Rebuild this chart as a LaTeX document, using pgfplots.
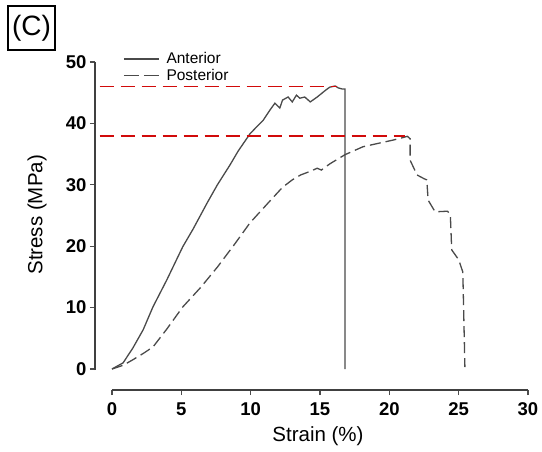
\documentclass[border=0pt]{standalone}
\usepackage{pgfplots}
\pgfplotsset{compat=1.18}
\usepackage{fontspec}
\setmainfont{Liberation Sans}
\definecolor{curve}{HTML}{4A4A4A}
\definecolor{redl}{HTML}{D10A0A}
\pgfplotsset{
  lineleg/.style={legend image code/.code={\draw[##1] (0pt,0pt) -- (35pt,0pt); \path (41pt,0pt);}},
  postleg/.style={legend image code/.code={\draw[##1, dash pattern=on 15pt off 5pt] (0pt,0pt) -- (35pt,0pt); \path (41pt,0pt);}},
}
\begin{document}
\begin{tikzpicture}
\path[use as bounding box] (-95pt,-61pt) rectangle (447pt,390pt);
\node[draw=black, line width=1.3pt, minimum width=47pt, minimum height=44pt, inner sep=0pt] at (-63.5pt,362pt) {\fontsize{28}{30}\selectfont (C)};
\begin{axis}[
  at={(0pt,0pt)}, anchor=south west,
  scale only axis, width=433pt, height=328pt,
  xmin=-1.226, xmax=30, ymin=-3.42, ymax=50,
  axis lines*=left,
  axis line style={draw=black!75, line width=2pt},
  x axis line style={shorten <=17pt},
  y axis line style={shorten <=20pt},
  xtick={0,5,...,30}, ytick={0,10,...,50},
  tick align=outside, major tick length=5pt,
  tick style={draw=black!70, line width=1.3pt},
  /pgf/number format/assume math mode=true,
  ticklabel style={font=\fontsize{18.5}{20}\selectfont\bfseries},
  xticklabel style={yshift=-4pt},
  label style={font=\fontsize{20.5}{22}\selectfont},
  xlabel={Strain (\%)}, ylabel={Stress (MPa)},
  xlabel style={at={(axis description cs:0.515,-0.14)}, anchor=center},
  ylabel style={at={(axis description cs:-0.134,0.534)}, anchor=center},
  clip=false,
  legend style={font=\fontsize{15.5}{16}\selectfont, draw=none, fill=none,
    at={(axis description cs:0.0647,1.032)}, anchor=north west,
    inner sep=0pt, row sep=1.5pt, nodes={inner xsep=1pt, inner ysep=1pt}},
  legend cell align=left,
]
\addplot[curve, line width=1.3pt, no marks, lineleg] coordinates {
(0,0) (0.8,1.0) (1.5,3.4) (2.25,6.4) (2.95,10.1) (3.95,14.5) (5.1,19.9) (5.85,22.8)
(6.85,27.0) (7.6,30.0) (8.5,33.2) (9.1,35.5) (9.95,38.3) (10.5,39.6) (10.9,40.5)
(11.4,42.2) (11.75,43.3) (12.1,42.5) (12.3,43.8) (12.7,44.3) (13.0,43.5) (13.3,44.6)
(13.55,44.1) (13.9,44.3) (14.3,43.5) (14.8,44.3) (15.4,45.4) (15.7,45.9) (16.1,46.1)
(16.3,45.8) (16.6,45.6) (16.8,45.6) (16.8,0)};
\addlegendentry{Anterior}
\addplot[curve, line width=1.3pt, no marks, dash pattern=on 11pt off 5pt, postleg] coordinates {
(0,0) (0.8,0.6) (1.5,1.5) (2.3,2.6) (2.96,3.6) (3.95,6.5) (5.1,10.1) (6.4,13.3) (7.6,16.6)
(8.8,20.2) (9.95,23.8) (11.2,26.9) (12.3,29.6) (13.0,30.8) (13.6,31.6) (14.3,32.2) (14.8,32.7)
(15.1,32.4) (15.7,33.4) (16.8,34.9) (18.1,36.2) (19.3,36.8) (20.3,37.3) (21.0,37.7)
(21.3,37.9) (21.5,37.5) (21.5,34.0) (22.0,31.6) (22.5,31.0) (22.7,30.8) (22.8,27.5)
(23.3,25.6) (24.2,25.7) (24.4,25.1) (24.5,19.4) (25.0,17.8) (25.3,15.8) (25.45,0.3)};
\addlegendentry{Posterior}
\addplot[redl, line width=1.8pt, no marks, dash pattern=on 14pt off 7pt, forget plot] coordinates {(-0.9,46) (16.2,46)};
\addplot[redl, line width=1.8pt, no marks, dash pattern=on 14pt off 7pt, forget plot] coordinates {(-0.9,38) (21.1,38)};
\end{axis}
\end{tikzpicture}
\end{document}
